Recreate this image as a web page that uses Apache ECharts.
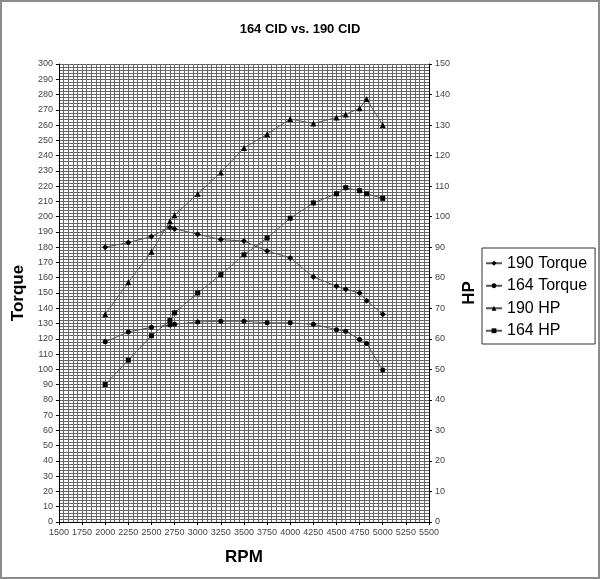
<!DOCTYPE html>
<html>
<head>
<meta charset="utf-8">
<script src="https://cdn.jsdelivr.net/npm/echarts@6/dist/echarts.min.js"></script>
<style>
  html, body { margin: 0; padding: 0; background: #fff; }
  #chart { width: 600px; height: 579px; box-sizing: border-box; border: 2px solid #8c8c8c; }
</style>
</head>
<body>
<div id="chart"></div>
<script>
  // rpm points shared by all four runs
  let rpm = [2000, 2250, 2500, 2700, 2750, 3000, 3250, 3500, 3750, 4000, 4250, 4500, 4600, 4750, 4825, 5000]
  let torque190 = [180, 183, 187, 193, 192, 188.5, 185, 184, 177.5, 173, 160.5, 154.5, 152.5, 150, 145, 136]
  let torque164 = [118, 124.5, 127.5, 129, 129.5, 131, 131.5, 131.5, 130.5, 130.5, 129.5, 126, 125, 119.5, 117, 99.5]
  let hp190 = [68, 78.5, 88.5, 98.5, 100.5, 107.5, 114.5, 122.5, 127, 132, 130.5, 132.5, 133.5, 135.5, 138.5, 130]
  let hp164 = [45, 53, 61, 66, 68.5, 75, 81, 87.5, 93, 99.5, 104.5, 107.5, 109.5, 108.5, 107.5, 106]

  function pairs(vals){
    return rpm.map(function(r, i){ return [r, vals[i]] })
  }

  let font = 'Liberation Sans, Arial, sans-serif'
  let gridColor = '#666'
  let chart = echarts.init(document.getElementById('chart'))

  function makeSeries(name, vals, axis, symbol, size){
    return {
      name: name,
      type: 'line',
      yAxisIndex: axis,
      data: pairs(vals),
      symbol: symbol,
      symbolSize: size,
      showAllSymbol: true,
      lineStyle: { color: '#555', width: 1 },
      itemStyle: { color: '#000' },
      emphasis: { disabled: true }
    }
  }

  let option = {
    animation: false,
    title: {
      text: '164 CID vs. 190 CID',
      left: 'center',
      top: 16,
      textStyle: { fontFamily: font, fontSize: 13, fontWeight: 'bold', color: '#000' }
    },
    legend: {
      orient: 'vertical',
      left: 480,
      top: 246,
      padding: [6, 8, 4, 3],
      itemGap: 4,
      itemWidth: 16,
      itemHeight: 6,
      borderColor: '#333',
      borderWidth: 1,
      textStyle: { fontFamily: font, fontSize: 16, color: '#000', lineHeight: 18.5 },
      data: ['190 Torque', '164 Torque', '190 HP', '164 HP']
    },
    grid: { left: 54, right: 169, top: 62, bottom: 55, containLabel: false },
    xAxis: {
      type: 'value',
      min: 1500,
      max: 5500,
      interval: 250,
      name: 'RPM',
      nameLocation: 'middle',
      nameGap: 27,
      nameTextStyle: { fontFamily: font, fontSize: 17, fontWeight: 'bold', color: '#000' },
      axisLine: { show: true, onZero: false, lineStyle: { color: '#000', width: 1 } },
      axisTick: { show: true, length: 3, lineStyle: { color: '#000' } },
      axisLabel: { fontFamily: font, fontSize: 9, color: '#444', margin: 6, formatter: function(v){ return String(v) } },
      splitLine: { show: true, lineStyle: { color: gridColor, width: 1 } },
      minorTick: { show: false, splitNumber: 5 },
      minorSplitLine: { show: true, lineStyle: { color: gridColor, width: 1 } }
    },
    yAxis: [
      {
        type: 'value',
        min: 0,
        max: 300,
        interval: 10,
        name: 'Torque',
        nameLocation: 'middle',
        nameGap: 16,
        nameTextStyle: { fontFamily: font, fontSize: 17, fontWeight: 'bold', color: '#000' },
        axisLine: { show: true, lineStyle: { color: '#000', width: 1 } },
        axisTick: { show: true, length: 3, lineStyle: { color: '#000' } },
        axisLabel: { fontFamily: font, fontSize: 9, color: '#444', margin: 6 },
        splitLine: { show: true, lineStyle: { color: gridColor, width: 1 } },
        minorTick: { show: false, splitNumber: 5 },
        minorSplitLine: { show: true, lineStyle: { color: gridColor, width: 1 } }
      },
      {
        type: 'value',
        min: 0,
        max: 150,
        interval: 10,
        name: 'HP',
        nameLocation: 'middle',
        nameRotate: 90,
        nameGap: 25,
        nameTextStyle: { fontFamily: font, fontSize: 17, fontWeight: 'bold', color: '#000' },
        axisLine: { show: true, lineStyle: { color: '#000', width: 1 } },
        axisTick: { show: true, length: 3, lineStyle: { color: '#000' } },
        axisLabel: { fontFamily: font, fontSize: 9, color: '#444', margin: 6 },
        splitLine: { show: false }
      }
    ],
    series: [
      makeSeries('190 Torque', torque190, 0, 'diamond', 6),
      makeSeries('164 Torque', torque164, 0, 'circle', 5),
      makeSeries('190 HP', hp190, 1, 'triangle', 6),
      makeSeries('164 HP', hp164, 1, 'rect', 5)
    ]
  }
  chart.setOption(option)
</script>
</body>
</html>
